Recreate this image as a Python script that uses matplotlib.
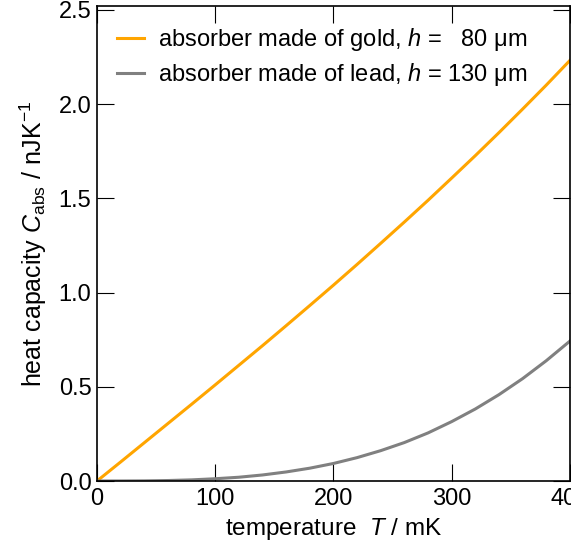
import matplotlib
matplotlib.use("Agg")
import matplotlib.pyplot as plt

plt.rcParams['font.family'] = ['Liberation Sans', 'DejaVu Sans']
plt.rcParams['mathtext.fontset'] = 'custom'
plt.rcParams['mathtext.rm'] = 'Liberation Sans'
plt.rcParams['mathtext.it'] = 'Liberation Sans:italic'
plt.rcParams['mathtext.bf'] = 'Liberation Sans:bold'

# temperature in mK
temperature = [0, 20, 40, 60, 80, 100, 120, 140, 160, 180, 200,
               220, 240, 260, 280, 300, 320, 340, 360, 380, 400]
# heat capacity in nJ/K
gold = [0.0, 0.101, 0.203, 0.305, 0.407, 0.510, 0.614, 0.718, 0.824, 0.931, 1.039,
        1.149, 1.261, 1.374, 1.489, 1.607, 1.726, 1.848, 1.973, 2.100, 2.231]
lead = [0.0, 0.0001, 0.0007, 0.0025, 0.006, 0.012, 0.020, 0.032, 0.048, 0.068, 0.093,
        0.124, 0.161, 0.204, 0.255, 0.315, 0.382, 0.458, 0.543, 0.638, 0.742]
xticks = [0, 100, 200, 300, 400]
yticks = [0.0, 0.5, 1.0, 1.5, 2.0, 2.5]
labels = ["absorber made of gold, $h$ =   80 μm", "absorber made of lead, $h$ = 130 μm"]

fig = plt.figure(figsize=(5.71, 5.45), dpi=100)
ax = fig.add_axes([97/571, 1-481/545, 474/571 - 0.002, 475/545])

ax.plot(temperature, gold, color='#FFA500', lw=2.2, label=labels[0])
ax.plot(temperature, lead, color='#808080', lw=2.2, label=labels[1])

ax.set_xlim(0, 400)
ax.set_ylim(0, 2.52)
ax.set_xticks(xticks)
ax.set_yticks(yticks)
ax.set_yticklabels([f"{v:.1f}" for v in yticks])
ax.tick_params(direction='in', length=12, width=0.8, top=True, right=True,
               labelsize=17, pad=4)
ax.tick_params(axis='x', pad=5)
for s in ax.spines.values():
    s.set_linewidth(1.2)

ax.set_xlabel("temperature  $T$ / mK", fontsize=17.5, labelpad=4)
ax.set_ylabel("heat capacity $C_{\\mathrm{abs}}$ / nJK$^{-1}$", fontsize=18, labelpad=7)

leg = ax.legend(loc='upper left', frameon=False, fontsize=17, handlelength=1.15,
                handletextpad=0.6, labelspacing=0.35, borderaxespad=0.45)

fig.savefig("out.png", dpi=100)
